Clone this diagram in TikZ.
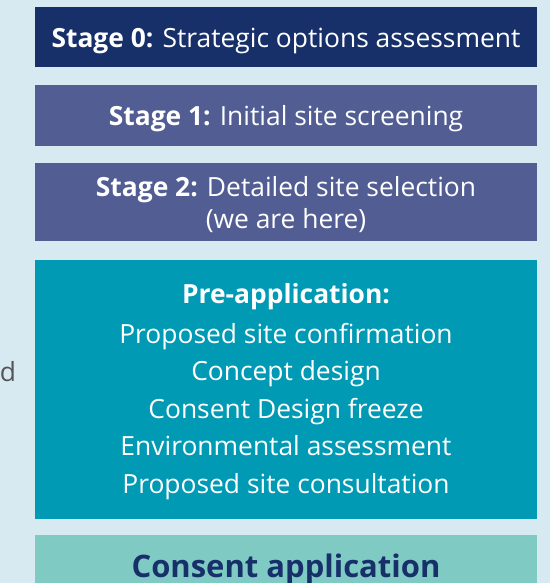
\documentclass[tikz,border=0pt]{standalone}
\usepackage{fontspec}
\setmainfont{Open Sans}
\definecolor{pagebg}{HTML}{D7EAF1}
\definecolor{navy}{HTML}{17306A}
\definecolor{slate}{HTML}{525E93}
\definecolor{teal}{HTML}{019AB4}
\definecolor{mint}{HTML}{80CAC4}
\definecolor{sidegray}{HTML}{555555}
\begin{document}
\begin{tikzpicture}[x=1pt,y=1pt,
                    stagebox/.style = {minimum width=502pt, inner sep=0pt},
                    boxtext/.style = {align=center, inner sep=0pt, text=white,
                            font=\fontsize{26.4}{32}\selectfont}]
\useasboundingbox (0,0) rectangle (550,-583);
\fill[pagebg] (0,0) rectangle (550,-583);
% boxes
\node[stagebox, fill=navy, minimum height=60pt] (stage0) at (286,-37) {};
\node[stagebox, fill=slate, minimum height=61pt] (stage1) at (286,-115.5) {};
\node[stagebox, fill=slate, minimum height=78pt] (stage2) at (286,-201.5) {};
\node[stagebox, fill=teal, minimum height=259pt] (preapp) at (286,-389.5) {};
\node[stagebox, fill=mint, minimum height=60pt] (consent) at (286,-565) {};
% texts
\node[boxtext, yshift=-3.5pt] (stage0txt) at (stage0)
    {\textbf{Stage 0:} Strategic options assessment};
\node[boxtext, yshift=-3.5pt] (stage1txt) at (stage1)
    {\textbf{Stage 1:} Initial site screening};
\node[boxtext, yshift=-3pt] (stage2txt) at (stage2)
    {\textbf{Stage 2:} Detailed site selection\\(we are here)};
\node[boxtext, yshift=-2pt, font=\fontsize{26.4}{37.5}\selectfont] (preapptxt) at (preapp)
    {\textbf{Pre-application:}\\[2.5pt]
     Proposed site confirmation\\
     Concept design\\
     Consent Design freeze\\
     Environmental assessment\\
     Proposed site consultation};
\node[boxtext, yshift=-4.5pt, text=navy,
      font=\fontsize{31}{32}\bfseries] (consenttxt) at (consent)
    {Consent application};
\node[text=sidegray, inner sep=0pt, font=\fontsize{26.4}{32}\selectfont]
    (sidenote) at (8,-372) {d};
\end{tikzpicture}
\end{document}
